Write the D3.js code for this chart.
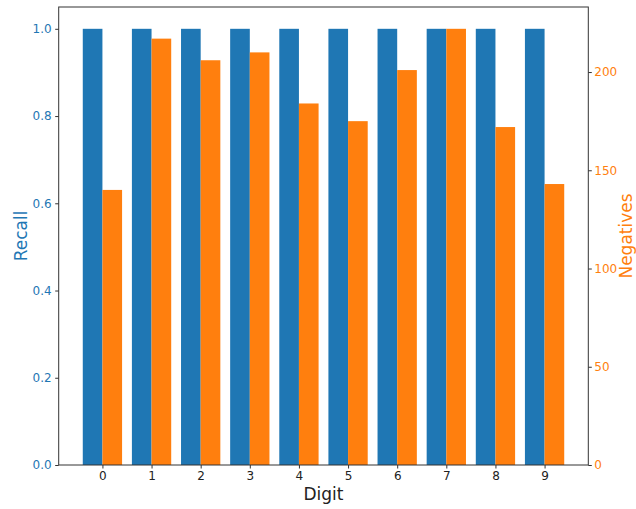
<!DOCTYPE html>
<html><head><meta charset="utf-8">
<script src="https://cdn.jsdelivr.net/npm/d3@7"></script>
<style>body{margin:0;background:#fff;} text{font-family:"DejaVu Sans",sans-serif;}</style>
</head><body>
<svg id="c" width="636" height="509"></svg>
<script>
const digits = [0,1,2,3,4,5,6,7,8,9];
const recall = [1,1,1,1,1,1,1,1,1,1];
const negatives = [140,217,206,210,184,175,201,222,172,143];
const recallTicks = [0,0.2,0.4,0.6,0.8,1.0];
const negTicks = [0,50,100,150,200];

const blue = "#1f77b4", orange = "#ff7f0e";
const L = 58.7, R = 588.3, T = 7, B = 465;
const svg = d3.select("#c");

const x = d3.scaleLinear().domain([-0.89, 9.89]).range([L, R]);
const yL = d3.scaleLinear().domain([0, 1.05]).range([B, T]);
const yR = d3.scaleLinear().domain([0, 233.1]).range([B, T]);
const bw = 0.4;

svg.selectAll("rect.r").data(digits).enter().append("rect")
  .attr("x", d => x(d - bw)).attr("width", x(bw) - x(0))
  .attr("y", (d,i) => yL(recall[i])).attr("height", (d,i) => yL(0) - yL(recall[i]))
  .attr("fill", blue);
svg.selectAll("rect.n").data(digits).enter().append("rect")
  .attr("x", d => x(d)).attr("width", x(bw) - x(0))
  .attr("y", (d,i) => yR(negatives[i])).attr("height", (d,i) => yR(0) - yR(negatives[i]))
  .attr("fill", orange);

// frame
svg.append("rect").attr("x", L).attr("y", T).attr("width", R - L).attr("height", B - T)
  .attr("fill", "none").attr("stroke", "#333").attr("stroke-width", 1);

const ax = svg.append("g").attr("transform", `translate(0,${B})`)
  .call(d3.axisBottom(x).tickValues(digits).tickFormat(d3.format("d")).tickSize(3.5).tickPadding(3));
ax.select(".domain").remove();
ax.selectAll("line").attr("stroke", "#333");
ax.selectAll("text").attr("font-size", 12).attr("fill", "#222");

const al = svg.append("g").attr("transform", `translate(${L},0)`)
  .call(d3.axisLeft(yL).tickValues(recallTicks).tickFormat(d3.format(".1f")).tickSize(3.5).tickPadding(3.5));
al.select(".domain").remove();
al.selectAll("line").attr("stroke", "#333");
al.selectAll("text").attr("font-size", 12).attr("fill", blue);

const ar = svg.append("g").attr("transform", `translate(${R},0)`)
  .call(d3.axisRight(yR).tickValues(negTicks).tickFormat(d3.format("d")).tickSize(3.5).tickPadding(2.5));
ar.select(".domain").remove();
ar.selectAll("line").attr("stroke", "#333");
ar.selectAll("text").attr("font-size", 12).attr("fill", orange);

svg.append("text").attr("x", (L + R) / 2).attr("y", 500).attr("text-anchor", "middle")
  .attr("font-size", 17).attr("fill", "#222").text("Digit");
svg.append("text").attr("transform", `translate(27,${(T + B) / 2}) rotate(-90)`)
  .attr("text-anchor", "middle").attr("font-size", 17).attr("fill", blue).text("Recall");
svg.append("text").attr("transform", `translate(631.5,${(T + B) / 2}) rotate(-90)`)
  .attr("text-anchor", "middle").attr("font-size", 17).attr("fill", orange).text("Negatives");
</script>
</body></html>
